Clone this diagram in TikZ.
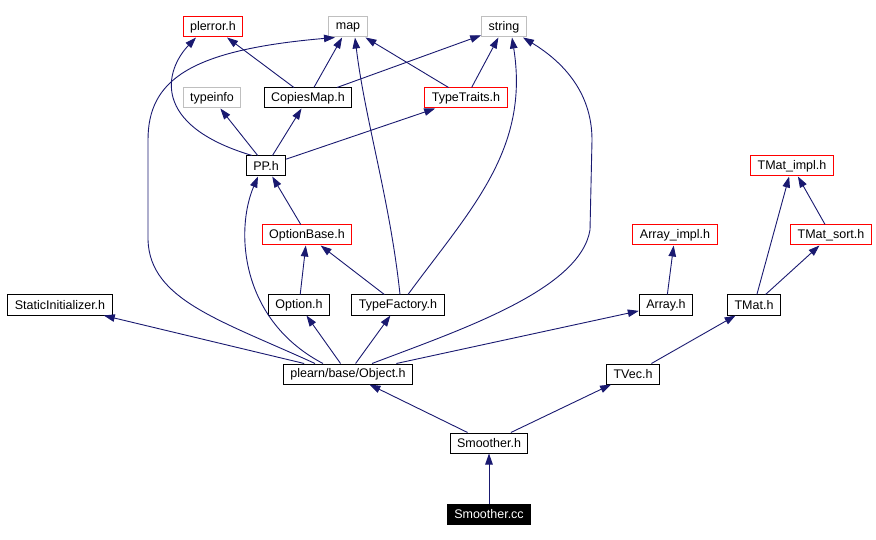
\documentclass[tikz,border=0pt]{standalone}
\usepackage{fontspec}
\setmainfont{Liberation Sans}
\usetikzlibrary{arrows.meta}
\definecolor{edgeblue}{RGB}{25,25,112}
\definecolor{boxgray}{RGB}{191,191,191}
\begin{document}
\begin{tikzpicture}[x=1pt,y=-1pt,
	file/.style={draw=black,line width=1pt,minimum height=20pt,inner xsep=7pt,inner ysep=0pt,font=\fontsize{12.5}{14}\selectfont},
	redfile/.style={file,draw=red},
	sysfile/.style={file,draw=boxgray},
	mainfile/.style={file,fill=black,text=white},
	dep/.style={draw=edgeblue,line width=0.9pt,-{Triangle[length=11pt,width=7.5pt]}}]
	\useasboundingbox (0,0) rectangle (876,540);
	\node[mainfile] (1) at (489,514) {Smoother.cc};
	\node[file] (2) at (489,443) {Smoother.h};
	\node[file] (3) at (348,374) {plearn/base/Object.h};
	\node[file] (4) at (633,374) {TVec.h};
	\node[file] (5) at (60,305) {StaticInitializer.h};
	\node[file] (6) at (299,305) {Option.h};
	\node[file] (7) at (398,305) {TypeFactory.h};
	\node[file] (8) at (666,305) {Array.h};
	\node[file] (9) at (754,305) {TMat.h};
	\node[redfile] (10) at (307,235) {OptionBase.h};
	\node[redfile] (11) at (675,235) {Array\_impl.h};
	\node[redfile] (12) at (831,235) {TMat\_sort.h};
	\node[file] (13) at (266,166) {PP.h};
	\node[redfile] (14) at (792,166) {TMat\_impl.h};
	\node[sysfile] (15) at (212,98) {typeinfo};
	\node[file] (16) at (308,98) {CopiesMap.h};
	\node[redfile] (17) at (466,98) {TypeTraits.h};
	\node[redfile] (18) at (213,27) {plerror.h};
	\node[sysfile] (19) at (348,27) {map};
	\node[sysfile] (20) at (504,27) {string};
	% straight includes
	\draw[dep] (1) -- (2);
	\draw[dep] (2) -- (3);
	\draw[dep] (2) -- (4);
	\draw[dep] (4) -- (9);
	\draw[dep] (9) -- (14);
	\draw[dep] (9) -- (12);
	\draw[dep] (12) -- (14);
	\draw[dep] (8) -- (11);
	\draw[dep] (3) -- (5);
	\draw[dep] (3) -- (6);
	\draw[dep] (3) -- (7);
	\draw[dep] (3) -- (8);
	\draw[dep] (6) -- (10);
	\draw[dep] (7) -- (10);
	\draw[dep] (10) -- (13);
	\draw[dep] (13) -- (15);
	\draw[dep] (13) -- (16);
	\draw[dep] (13) -- (17);
	\draw[dep] (16) -- (18);
	\draw[dep] (16) -- (19);
	\draw[dep] (16) -- (20);
	\draw[dep] (17) -- (19);
	\draw[dep] (17) -- (20);
	% curved includes
	\draw[dep] ([xshift=-25pt]3.north) .. controls (240,320) and (235,230) .. ([xshift=-8pt]13.south);
	\draw[dep] ([xshift=-33pt]3.north) .. controls (220,320) and (150,300) .. (148,240) -- (148,140) .. controls (148,80) and (190,50) .. ([xshift=-13pt]19.south);
	\draw[dep] ([xshift=24pt]3.north) .. controls (460,330) and (580,290) .. (590,230) -- (592,140) .. controls (592,90) and (560,60) .. ([xshift=19pt]20.south);
	\draw[dep] ([xshift=10pt]7.north) .. controls (470,210) and (530,150) .. ([xshift=8pt]20.south);
	\draw[dep] ([xshift=2pt]7.north) .. controls (390,200) and (365,120) .. ([xshift=7pt]19.south);
	\draw[dep] ([xshift=-14pt]13.north) .. controls (150,125) and (165,70) .. ([xshift=-17pt]18.south);
\end{tikzpicture}
\end{document}
